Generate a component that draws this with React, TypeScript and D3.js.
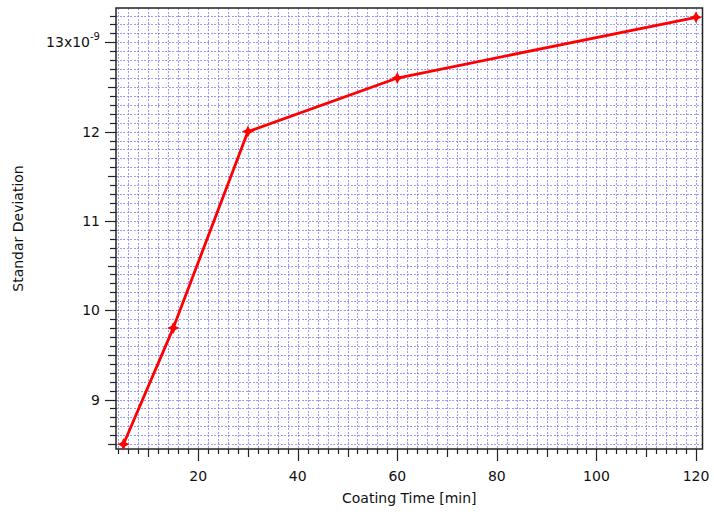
import React from "react";
import * as d3 from "d3";

const coatingTime = [5, 15, 30, 60, 120];
const stdDev = [8.5, 9.8, 12.0, 12.6, 13.28]; // x1e-9
const xTickLabels = [20, 40, 60, 80, 100, 120];
const yTickLabels = [9, 10, 11, 12, 13];

const W = 714, H = 512;
const L = 116, R = 702.5, T = 8, B = 449;

export default function App() {
  const x = d3.scaleLinear().domain([3.5, 121.3]).range([L, R]);
  const y = d3.scaleLinear().domain([8.446, 13.384]).range([B, T]);

  const xMinor = d3.range(4, 121.3, 2);
  const yMinor = d3.range(85, 134).map((v) => v / 10).filter((v) => v >= 8.446 && v <= 13.384);
  const sx = (v: number) => Math.round(x(v)) + 0.5;
  const sy = (v: number) => Math.round(y(v)) + 0.5;

  const line = d3.line<number>().x((_, i) => x(coatingTime[i])).y((d) => y(d));
  const star = "M0,-6L2,-2L6,0L2,2L0,6L-2,2L-6,0L-2,-2Z";
  const font = "'DejaVu Sans', Verdana, sans-serif";
  const axisColor = "#222";

  return (
    <svg width={W} height={H} style={{ position: "absolute", left: 0, top: 0, background: "#fff" }}>
      {/* grid */}
      <g stroke="#7070ff" strokeOpacity={0.7} strokeWidth={1} strokeDasharray="2,1.5" shapeRendering="crispEdges">
        {xMinor.map((v) => (
          <line key={"gx" + v} x1={sx(v)} x2={sx(v)} y1={T} y2={B} />
        ))}
        {yMinor.map((v) => (
          <line key={"gy" + v} x1={L} x2={R} y1={sy(v)} y2={sy(v)} />
        ))}
      </g>
      {/* frame */}
      <rect x={L} y={T} width={R - L} height={B - T} fill="none" stroke={axisColor} strokeWidth={1.5} />
      {/* ticks */}
      <g stroke={axisColor} strokeWidth={1.2}>
        {xMinor.map((v) => {
          const len = v % 20 === 0 ? 12 : v % 10 === 0 ? 8 : 5;
          return <line key={"tx" + v} x1={sx(v)} x2={sx(v)} y1={B} y2={B + len} />;
        })}
        {yMinor.map((v) => {
          const k = Math.round(v * 10);
          const len = k % 10 === 0 ? 11 : k % 5 === 0 ? 8 : 6;
          return <line key={"ty" + v} x1={L - len} x2={L} y1={sy(v)} y2={sy(v)} />;
        })}
      </g>
      {/* x tick labels */}
      <g fontFamily={font} fontSize={14} fill="#111" textAnchor="middle">
        {xTickLabels.map((v) => (
          <text key={"lx" + v} x={x(v)} y={481}>{v}</text>
        ))}
      </g>
      {/* y tick labels */}
      <g fontFamily={font} fontSize={14} fill="#111" textAnchor="end">
        {yTickLabels.map((v) =>
          v === 13 ? (
            <text key={"ly" + v} x={100} y={y(v) + 5}>
              13x10<tspan dy={-7} fontSize={10}>-9</tspan>
            </text>
          ) : (
            <text key={"ly" + v} x={100} y={y(v) + 5}>{v}</text>
          )
        )}
      </g>
      {/* axis titles */}
      <text x={(L + R) / 2} y={503} textAnchor="middle" fontFamily={font} fontSize={14} fill="#111">
        Coating Time [min]
      </text>
      <text
        transform={`translate(23,${(T + B) / 2}) rotate(-90)`}
        textAnchor="middle"
        fontFamily={font}
        fontSize={14}
        fill="#111"
      >
        Standar Deviation
      </text>
      {/* series */}
      <path d={line(stdDev) || ""} fill="none" stroke="#ff0000" strokeWidth={2.8} strokeLinejoin="round" />
      {stdDev.map((v, i) => (
        <path key={"m" + i} d={star} transform={`translate(${x(coatingTime[i])},${y(v)})`} fill="#ff0000" />
      ))}
    </svg>
  );
}
